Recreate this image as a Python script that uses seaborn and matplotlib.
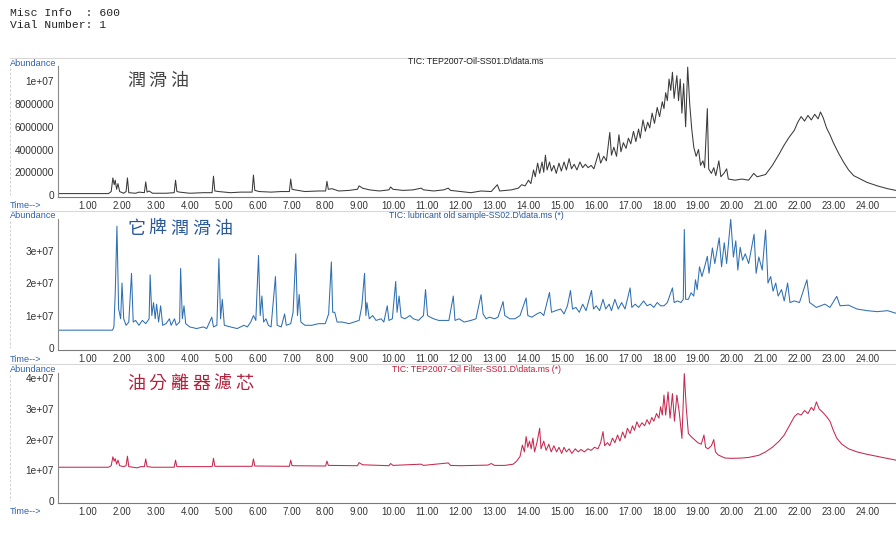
import matplotlib
matplotlib.use("Agg")
import matplotlib.pyplot as plt
import numpy as np
import pandas as pd
import seaborn as sns
from matplotlib.ticker import MultipleLocator, FixedLocator, FixedFormatter

# ---------------- data ----------------
header_lines = ["Misc Info  : 600", "Vial Number: 1"]

panel_titles = ["TIC: TEP2007-Oil-SS01.D\\data.ms",
                "TIC: lubricant old sample-SS02.D\\data.ms (*)",
                "TIC: TEP2007-Oil Filter-SS01.D\\data.ms (*)"]
panel_names = ["潤滑油", "它牌潤滑油", "油分離器濾芯"]

x_tick_values = list(range(1, 25))
x_tick_labels = [f"{v}.00" for v in x_tick_values]

y_ticks_1 = [0, 2e6, 4e6, 6e6, 8e6, 1e7]
y_labels_1 = ["0", "2000000", "4000000", "6000000", "8000000", "1e+07"]
y_ticks_2 = [0, 1e7, 2e7, 3e7]
y_labels_2 = ["0", "1e+07", "2e+07", "3e+07"]
y_ticks_3 = [0, 1e7, 2e7, 3e7, 4e7]
y_labels_3 = ["0", "1e+07", "2e+07", "3e+07", "4e+07"]

# panel 1: lubricating oil, (time min, abundance in 1e6)
oil_trace = [
    (0.12, 0.12), (1.60, 0.12), (1.68, 0.3), (1.73, 1.5), (1.77, 0.9), (1.80, 1.3),
    (1.84, 0.5), (1.88, 1.0), (1.93, 0.3), (2.05, 0.15), (2.12, 0.3), (2.16, 1.5),
    (2.20, 0.2), (2.40, 0.15), (2.50, 0.25), (2.66, 0.2), (2.70, 1.15), (2.74, 0.25),
    (2.80, 0.35), (2.90, 0.15), (3.30, 0.15), (3.54, 0.2), (3.58, 1.3), (3.62, 0.3),
    (3.70, 0.25), (4.00, 0.15), (4.40, 0.2), (4.66, 0.2), (4.70, 1.65), (4.74, 0.35),
    (4.85, 0.3), (5.20, 0.2), (5.50, 0.25), (5.84, 0.25), (5.88, 1.75), (5.92, 0.4),
    (6.05, 0.3), (6.40, 0.25), (6.70, 0.3), (6.94, 0.3), (6.98, 1.4), (7.02, 0.5),
    (7.10, 0.45), (7.40, 0.3), (7.80, 0.35), (8.01, 0.35), (8.05, 1.2), (8.09, 0.5),
    (8.20, 0.55), (8.40, 0.35), (8.70, 0.4), (8.95, 0.5), (9.00, 0.8), (9.10, 0.6),
    (9.30, 0.45), (9.60, 0.35), (9.88, 0.45), (9.93, 0.7), (10.00, 0.5), (10.30, 0.4),
    (10.60, 0.45), (10.83, 0.6), (10.90, 0.45), (11.20, 0.35), (11.50, 0.45),
    (11.63, 0.6), (11.70, 0.4), (12.00, 0.3), (12.30, 0.2), (12.60, 0.35), (12.90, 0.3),
    (13.08, 0.9), (13.15, 0.35), (13.50, 0.45), (13.70, 0.6), (13.80, 0.9), (13.90, 0.8),
    (14.00, 1.3), (14.07, 1.0), (14.15, 2.2), (14.20, 1.6), (14.27, 2.8), (14.33, 1.9),
    (14.40, 2.9), (14.45, 2.0), (14.50, 3.5), (14.55, 2.2), (14.62, 2.9), (14.68, 2.1),
    (14.75, 2.6), (14.82, 1.9), (14.90, 2.8), (14.97, 2.1), (15.05, 2.9), (15.12, 2.2),
    (15.20, 3.2), (15.27, 2.3), (15.35, 2.7), (15.43, 2.2), (15.52, 2.9), (15.60, 2.4),
    (15.68, 2.7), (15.76, 2.4), (15.85, 2.6), (15.93, 2.3), (16.00, 3.0), (16.07, 3.7),
    (16.13, 2.8), (16.22, 3.4), (16.30, 3.0), (16.40, 5.5), (16.45, 3.5), (16.52, 4.2),
    (16.60, 3.4), (16.67, 5.3), (16.73, 3.8), (16.80, 4.6), (16.88, 4.1), (16.95, 5.0),
    (17.02, 4.5), (17.10, 5.6), (17.17, 4.7), (17.25, 5.8), (17.30, 5.0), (17.38, 6.6),
    (17.45, 5.6), (17.52, 6.4), (17.58, 5.9), (17.65, 7.2), (17.72, 6.3), (17.80, 7.7),
    (17.87, 6.9), (17.95, 8.2), (18.00, 7.6), (18.05, 9.0), (18.10, 8.3), (18.15, 10.2),
    (18.20, 9.2), (18.25, 10.8), (18.30, 8.5), (18.38, 10.5), (18.43, 8.3), (18.48, 10.2),
    (18.53, 7.2), (18.58, 9.8), (18.64, 6.0), (18.70, 11.25), (18.76, 8.0), (18.82, 5.8),
    (18.88, 4.2), (18.95, 3.4), (19.02, 4.0), (19.08, 2.6), (19.15, 3.0), (19.20, 2.4),
    (19.28, 7.6), (19.32, 2.3), (19.40, 1.9), (19.47, 2.4), (19.53, 1.7), (19.62, 3.0),
    (19.68, 1.6), (19.77, 1.9), (19.85, 2.3), (19.90, 1.4), (20.10, 1.3), (20.30, 1.4),
    (20.50, 1.3), (20.65, 1.9), (20.75, 1.6), (21.00, 1.8), (21.20, 2.6), (21.40, 3.6),
    (21.55, 4.4), (21.70, 5.1), (21.85, 5.7), (21.95, 6.4), (22.05, 6.9), (22.15, 6.5),
    (22.25, 7.0), (22.35, 6.6), (22.45, 7.1), (22.55, 6.7), (22.62, 7.3), (22.70, 6.8),
    (22.80, 5.9), (22.90, 5.3), (23.00, 4.6), (23.15, 3.7), (23.30, 2.9), (23.45, 2.2),
    (23.60, 1.7), (23.80, 1.4), (24.00, 1.1), (24.30, 0.8), (24.60, 0.55), (24.85, 0.4),
]

# panel 2: other-brand lubricant, (time min, abundance in 1e7)
other_trace = [
    (0.12, 0.55), (1.72, 0.55), (1.76, 0.65), (1.80, 1.7), (1.85, 3.75), (1.90, 1.2),
    (1.96, 0.9), (2.00, 2.0), (2.05, 0.9), (2.12, 0.7), (2.20, 0.8), (2.28, 2.3),
    (2.33, 0.8), (2.40, 0.85), (2.50, 0.7), (2.60, 0.85), (2.70, 0.75), (2.80, 0.9),
    (2.83, 2.25), (2.88, 1.0), (2.93, 1.4), (2.98, 0.9), (3.02, 1.35), (3.08, 0.8),
    (3.14, 1.3), (3.20, 0.7), (3.30, 0.75), (3.40, 0.9), (3.45, 0.7), (3.55, 0.9),
    (3.60, 0.7), (3.70, 0.8), (3.73, 2.45), (3.78, 0.9), (3.83, 1.3), (3.88, 0.75),
    (4.00, 0.65), (4.20, 0.6), (4.40, 0.65), (4.50, 0.6), (4.65, 0.95), (4.70, 0.65),
    (4.80, 0.7), (4.86, 2.75), (4.91, 0.9), (4.96, 1.5), (5.02, 0.7), (5.20, 0.65),
    (5.40, 0.6), (5.60, 0.7), (5.70, 0.65), (5.80, 0.8), (5.88, 1.0), (5.95, 0.85),
    (6.03, 2.85), (6.08, 1.0), (6.13, 1.6), (6.18, 0.8), (6.25, 0.9), (6.32, 0.7),
    (6.40, 0.65), (6.53, 2.2), (6.58, 0.7), (6.70, 0.65), (6.80, 1.05), (6.85, 0.7),
    (6.98, 0.75), (7.05, 1.1), (7.13, 2.9), (7.18, 1.0), (7.23, 1.65), (7.28, 0.8),
    (7.40, 0.7), (7.60, 0.7), (7.80, 0.75), (8.00, 0.75), (8.10, 1.05), (8.18, 2.65),
    (8.22, 1.1), (8.28, 1.1), (8.35, 0.8), (8.50, 0.8), (8.70, 0.75), (8.85, 0.8),
    (9.00, 0.85), (9.08, 1.3), (9.16, 2.3), (9.20, 1.0), (9.23, 1.4), (9.30, 0.9),
    (9.40, 1.0), (9.50, 0.85), (9.65, 0.9), (9.73, 0.8), (9.83, 1.3), (9.88, 0.85),
    (9.98, 0.9), (10.08, 2.05), (10.12, 1.1), (10.18, 1.6), (10.24, 0.95), (10.35, 0.9),
    (10.50, 1.0), (10.60, 0.9), (10.75, 0.85), (10.90, 1.0), (10.96, 1.8), (11.02, 1.0),
    (11.10, 0.95), (11.20, 0.9), (11.35, 0.85), (11.50, 0.85), (11.65, 0.85),
    (11.78, 1.6), (11.83, 0.85), (11.95, 0.9), (12.10, 0.8), (12.30, 0.85), (12.45, 0.9),
    (12.60, 1.64), (12.66, 1.05), (12.75, 0.9), (12.85, 0.95), (13.00, 0.9), (13.10, 0.95),
    (13.25, 1.43), (13.30, 1.0), (13.45, 0.9), (13.60, 0.9), (13.75, 1.0), (13.93, 1.54),
    (13.98, 1.0), (14.10, 0.95), (14.25, 1.05), (14.35, 1.1), (14.45, 1.0), (14.62, 1.71),
    (14.68, 1.1), (14.80, 1.15), (14.95, 1.2), (15.05, 1.05), (15.15, 1.3), (15.24, 1.77),
    (15.30, 1.2), (15.40, 1.25), (15.50, 1.1), (15.60, 1.35), (15.70, 1.15), (15.86, 1.77),
    (15.92, 1.2), (16.00, 1.3), (16.10, 1.15), (16.20, 1.5), (16.28, 1.2), (16.38, 1.35),
    (16.45, 1.15), (16.55, 1.5), (16.65, 1.2), (16.75, 1.4), (16.85, 1.2), (17.00, 1.85),
    (17.05, 1.25), (17.15, 1.35), (17.25, 1.25), (17.40, 1.45), (17.50, 1.3), (17.60, 1.35),
    (17.70, 1.25), (17.80, 1.4), (17.90, 1.3), (18.00, 1.3), (18.10, 1.4), (18.25, 1.85),
    (18.30, 1.4), (18.40, 1.45), (18.50, 1.4), (18.57, 1.5), (18.60, 3.65), (18.64, 1.5),
    (18.72, 1.5), (18.80, 1.7), (18.88, 1.6), (18.93, 2.1), (18.98, 1.8), (19.05, 2.5),
    (19.12, 2.2), (19.20, 2.5), (19.28, 2.82), (19.33, 2.3), (19.43, 3.08), (19.50, 2.6),
    (19.55, 2.9), (19.63, 3.39), (19.70, 2.5), (19.78, 3.24), (19.85, 2.6), (19.97, 3.96),
    (20.05, 2.8), (20.12, 3.3), (20.18, 2.4), (20.25, 3.1), (20.32, 2.7), (20.40, 2.9),
    (20.50, 2.6), (20.66, 3.5), (20.72, 2.3), (20.80, 2.8), (20.90, 2.4), (21.00, 3.63),
    (21.07, 2.0), (21.15, 2.2), (21.22, 1.75), (21.30, 2.0), (21.37, 1.6), (21.47, 1.8),
    (21.55, 1.45), (21.65, 2.0), (21.72, 1.4), (21.85, 1.45), (22.00, 1.4), (22.22, 2.1),
    (22.30, 1.4), (22.50, 1.25), (22.75, 1.35), (22.90, 1.25), (23.10, 1.59), (23.20, 1.3),
    (23.45, 1.32), (23.70, 1.2), (24.00, 1.15), (24.30, 1.12), (24.60, 1.15), (24.85, 1.07),
]

# panel 3: oil separator filter, (time min, abundance in 1e7)
filter_trace = [
    (0.12, 1.1), (1.60, 1.1), (1.68, 1.15), (1.73, 1.44), (1.77, 1.3), (1.80, 1.38),
    (1.84, 1.2), (1.88, 1.33), (1.93, 1.15), (2.05, 1.12), (2.12, 1.15), (2.16, 1.46),
    (2.20, 1.12), (2.45, 1.08), (2.55, 1.12), (2.66, 1.12), (2.70, 1.37), (2.74, 1.12),
    (2.90, 1.1), (3.54, 1.1), (3.58, 1.33), (3.62, 1.12), (4.66, 1.12), (4.70, 1.39),
    (4.74, 1.13), (5.84, 1.13), (5.88, 1.37), (5.92, 1.14), (6.94, 1.13), (6.98, 1.33),
    (7.02, 1.15), (8.01, 1.14), (8.05, 1.30), (8.09, 1.16), (8.95, 1.15), (9.00, 1.25),
    (9.10, 1.18), (9.88, 1.15), (9.93, 1.22), (10.00, 1.16), (10.83, 1.20), (10.90, 1.16),
    (11.63, 1.24), (11.70, 1.16), (12.00, 1.15), (12.80, 1.17), (12.90, 1.22), (13.00, 1.16),
    (13.30, 1.16), (13.55, 1.2), (13.65, 1.3), (13.75, 1.45), (13.82, 1.82), (13.88, 1.6),
    (13.93, 2.1), (13.98, 1.75), (14.03, 1.95), (14.08, 1.7), (14.13, 2.05), (14.18, 1.6),
    (14.25, 1.9), (14.33, 2.37), (14.37, 1.7), (14.45, 1.95), (14.52, 1.65), (14.60, 1.85),
    (14.67, 1.6), (14.75, 1.8), (14.83, 1.6), (14.90, 1.75), (14.98, 1.55), (15.05, 1.75),
    (15.12, 1.6), (15.20, 1.7), (15.28, 1.55), (15.38, 1.7), (15.47, 1.6), (15.55, 1.68),
    (15.65, 1.6), (15.75, 1.7), (15.85, 1.65), (15.95, 1.75), (16.05, 1.7), (16.13, 1.9),
    (16.20, 2.26), (16.25, 1.8), (16.33, 1.9), (16.40, 1.8), (16.48, 2.05), (16.55, 1.9),
    (16.63, 2.15), (16.70, 1.95), (16.78, 2.25), (16.85, 2.05), (16.92, 2.37), (17.00, 2.2),
    (17.07, 2.45), (17.13, 2.3), (17.20, 2.58), (17.27, 2.4), (17.35, 2.55), (17.43, 2.45),
    (17.50, 2.65), (17.57, 2.5), (17.64, 2.72), (17.70, 2.6), (17.78, 2.85), (17.85, 2.7),
    (17.90, 3.07), (17.95, 2.8), (18.00, 3.45), (18.05, 2.8), (18.12, 3.55), (18.18, 2.7),
    (18.25, 3.5), (18.31, 2.6), (18.38, 3.45), (18.45, 2.9), (18.53, 2.04), (18.60, 4.15),
    (18.66, 3.0), (18.72, 2.2), (18.80, 2.1), (18.90, 2.0), (19.00, 1.9), (19.10, 1.85),
    (19.18, 2.15), (19.23, 1.75), (19.30, 1.7), (19.40, 1.8), (19.47, 2.0), (19.52, 1.6),
    (19.60, 1.5), (19.70, 1.45), (19.80, 1.4), (20.00, 1.39), (20.30, 1.4), (20.50, 1.42),
    (20.80, 1.49), (21.00, 1.6), (21.20, 1.75), (21.40, 1.95), (21.55, 2.15), (21.70, 2.45),
    (21.85, 2.75), (21.95, 2.85), (22.05, 2.8), (22.15, 2.95), (22.25, 2.85), (22.35, 3.05),
    (22.42, 2.95), (22.50, 3.23), (22.58, 3.0), (22.68, 2.9), (22.80, 2.75), (22.90, 2.6),
    (23.00, 2.3), (23.10, 2.05), (23.25, 1.85), (23.45, 1.7), (23.70, 1.6), (24.00, 1.52),
    (24.40, 1.43), (24.85, 1.33),
]

# ---------------- styling ----------------
sns.set_style("white")
plt.rcParams["font.family"] = ["Liberation Sans", "Noto Sans CJK TC", "DejaVu Sans"]

W, H = 896, 533
fig = plt.figure(figsize=(W / 100, H / 100), dpi=100)
fig.patch.set_facecolor("white")

label_blue = "#2f62ad"
tick_col = "#333333"


def px_axes(l, t, r, b):
    return fig.add_axes([l / W, 1 - b / H, (r - l) / W, (b - t) / H])


def ftext(x, y, s, **kw):
    fig.text(x / W, 1 - y / H, s, **kw)


# header text
ftext(10, 13, header_lines[0], family="Liberation Mono", fontsize=8.2,
      color="#222222", va="center", ha="left")
ftext(10, 25, header_lines[1], family="Liberation Mono", fontsize=8.2,
      color="#222222", va="center", ha="left")

panels = [
    dict(trace=oil_trace, scale=1e6, color="#3a3a3a", top=66, bottom=197,
         ylim=(-0.18e6, 11.35e6), yt=y_ticks_1, yl=y_labels_1, title_col="#222222",
         name_col="#444444", name_y=81, frame_y=58),
    dict(trace=other_trace, scale=1e7, color="#2f6fb3", top=219, bottom=350,
         ylim=(-0.06e7, 3.97e7), yt=y_ticks_2, yl=y_labels_2, title_col="#2a5a9c",
         name_col="#2a5a9c", name_y=229, frame_y=211),
    dict(trace=filter_trace, scale=1e7, color="#c8284e", top=373, bottom=503,
         ylim=(-0.065e7, 4.17e7), yt=y_ticks_3, yl=y_labels_3, title_col="#c41e3a",
         name_col="#b3203c", name_y=384, frame_y=364),
]

for i, p in enumerate(panels):
    ax = px_axes(58, p["top"], 896, p["bottom"])
    df = pd.DataFrame(p["trace"], columns=["time", "value"])
    df["abundance"] = df["value"] * p["scale"]
    sns.lineplot(data=df, x="time", y="abundance", ax=ax, color=p["color"],
                 linewidth=0.75, estimator=None, sort=False)
    ax.set_xlim(0.11, 24.85)
    ax.set_ylim(*p["ylim"])
    ax.set_xlabel("")
    ax.set_ylabel("")
    ax.patch.set_alpha(0)
    for s in ["top", "right"]:
        ax.spines[s].set_visible(False)
    ax.spines["left"].set_color("#8a8a8a")
    ax.spines["left"].set_linewidth(0.8)
    ax.spines["bottom"].set_color("#7a7a7a")
    ax.spines["bottom"].set_linewidth(0.8)
    ax.xaxis.set_major_locator(FixedLocator(x_tick_values))
    ax.xaxis.set_major_formatter(FixedFormatter(x_tick_labels))
    ax.xaxis.set_minor_locator(MultipleLocator(0.2))
    ax.tick_params(axis="x", which="major", direction="in", length=4, width=0.7,
                   color="#777777", labelsize=6.9, labelcolor=tick_col, pad=3)
    ax.tick_params(axis="x", which="minor", direction="in", length=2, width=0.5,
                   color="#999999")
    ax.yaxis.set_major_locator(FixedLocator(p["yt"]))
    ax.yaxis.set_major_formatter(FixedFormatter(p["yl"]))
    ax.tick_params(axis="y", which="major", direction="out", length=1.5, width=0.6,
                   color="#888888", labelsize=7.3, labelcolor=tick_col, pad=1.5)
    ax.grid(False)

    # panel annotations
    ftext(476, p["top"] - 4, panel_titles[i], fontsize=6.3, color=p["title_col"],
          ha="center", va="center")
    ftext(10, p["top"] - 3, "Abundance", fontsize=6.6, color=label_blue,
          ha="left", va="center")
    ftext(10, p["bottom"] + 9, "Time-->", fontsize=6.6, color=label_blue,
          ha="left", va="center")
    # Chinese sample name, characters spaced like the reference
    for k, ch in enumerate(panel_names[i]):
        ftext(136 + 21.7 * k, p["name_y"], ch,
              family=["Noto Sans CJK TC", "DejaVu Sans"], fontsize=13,
              color=p["name_col"], ha="center", va="center")
    # faint scan frame lines
    fig.add_artist(plt.Line2D([10 / W, 1], [1 - p["frame_y"] / H] * 2,
                              color="#d8d8d8", linewidth=0.8))
    fig.add_artist(plt.Line2D([10 / W] * 2, [1 - (p["top"] + 2) / H, 1 - (p["bottom"] - 2) / H],
                              color="#c8c8c8", linewidth=0.6, linestyle=(0, (3, 2))))

fig.savefig("out.png", dpi=100, facecolor="white")
